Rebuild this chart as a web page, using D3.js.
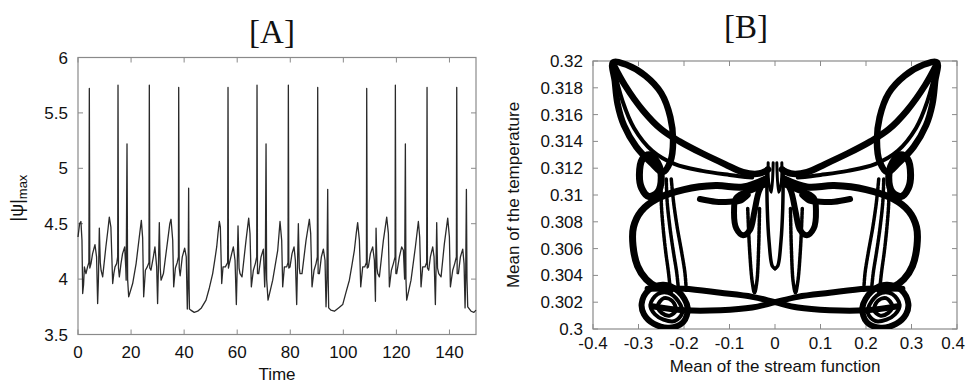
<!DOCTYPE html>
<html><head><meta charset="utf-8">
<script src="https://cdn.jsdelivr.net/npm/d3@7"></script>
<style>body{margin:0;background:#fff}svg{display:block}</style>
</head><body>
<svg id="c" width="966" height="383"></svg>
<script>
// ---------------- Panel A data ----------------
const timeTicksA = [0,20,40,60,80,100,120,140];
const psiTicksA = [3.5,4,4.5,5,5.5,6];
const psiSeries = [
[0,4.38],[0.6,4.5],[1.1,4.52],[1.5,4.35],[1.76,3.87],[2.1,3.95],[2.4,4.11],[3.0,4.05],[3.6,4.11],[4.1,4.15],[4.27,5.72],[4.45,4.1],[4.9,4.14],[5.5,4.23],[6.4,4.31],[7.0,4.2],[7.4,3.78],[7.7,4.0],[8.04,4.46],[8.4,4.15],[8.7,4.08],[9.3,4.02],[10.5,4.29],[11.3,4.45],[11.8,4.56],[12.4,4.47],[13.07,3.96],[13.5,4.05],[13.95,4.11],[14.57,4.14],[14.95,4.2],[15.08,5.75],[15.25,4.1],[15.58,4.02],[16.2,4.14],[16.8,4.23],[17.6,4.29],[18.0,4.1],[18.15,3.99],[18.47,5.22],[18.7,4.0],[19.1,3.84],[20.6,3.96],[21.9,4.14],[23.1,4.38],[23.87,4.53],[24.37,4.37],[24.75,3.84],[25.4,4.08],[26.1,4.11],[26.75,4.15],[26.88,5.75],[27.05,4.1],[27.5,4.08],[28.4,4.2],[29.0,4.29],[29.65,4.11],[30.0,3.78],[30.3,4.1],[30.65,4.51],[31.0,4.1],[31.3,3.99],[32.2,4.05],[33.8,4.35],[34.6,4.5],[35.06,4.54],[35.7,4.35],[36.06,3.93],[36.7,4.1],[37.4,4.15],[37.85,4.2],[37.95,5.73],[38.15,4.1],[38.5,4.03],[39.3,4.2],[40.2,4.28],[40.8,4.2],[41.2,3.73],[41.5,4.0],[41.7,4.82],[41.85,4.0],[42.0,3.73],[42.5,3.72],[43.8,3.70],[45.1,3.71],[46.5,3.74],[48.25,3.81],[49.5,3.92],[50.76,4.05],[51.6,4.18],[52.27,4.29],[52.8,4.42],[53.27,4.52],[53.65,4.47],[54.16,3.96],[54.66,4.11],[55.54,4.11],[56.4,4.15],[56.54,5.73],[56.7,4.1],[57.04,4.14],[57.92,4.23],[58.55,4.29],[59.18,4.17],[59.68,3.77],[60.0,4.1],[60.31,4.48],[60.7,4.1],[61.06,4.05],[61.81,4.02],[63.32,4.35],[64.33,4.55],[64.83,4.41],[65.33,3.93],[66.09,4.08],[66.84,4.14],[67.35,4.2],[67.47,5.75],[67.65,4.05],[68.1,4.05],[68.98,4.2],[69.86,4.27],[70.36,3.93],[70.6,4.1],[70.87,5.22],[71.1,4.0],[71.62,3.81],[73.38,3.99],[75.27,4.26],[76.14,4.52],[76.77,4.35],[77.14,3.93],[77.78,4.11],[78.65,4.11],[79.15,4.15],[79.28,5.75],[79.45,4.1],[79.91,4.11],[80.66,4.23],[81.42,4.29],[81.92,4.17],[82.42,3.77],[82.7,4.1],[83.05,4.5],[83.4,4.1],[83.68,4.05],[84.43,4.05],[85.94,4.35],[87.2,4.54],[87.7,4.41],[88.2,3.93],[88.96,4.08],[89.71,4.14],[90.2,4.2],[90.34,5.73],[90.5,4.05],[90.97,4.05],[91.72,4.2],[92.47,4.27],[93.1,4.17],[93.48,3.75],[93.8,4.0],[94.11,4.81],[94.3,4.0],[94.48,3.74],[95.3,3.72],[96.62,3.71],[98.2,3.74],[99.76,3.77],[101.0,3.88],[102.27,3.99],[103.2,4.12],[104.16,4.26],[104.9,4.42],[105.4,4.51],[106.05,4.35],[106.55,3.93],[107.3,4.11],[108.06,4.11],[108.7,4.15],[108.81,5.72],[109.0,4.1],[109.44,4.11],[110.2,4.23],[111.07,4.29],[111.7,4.17],[112.1,3.8],[112.33,4.46],[112.7,4.1],[112.96,4.05],[113.58,4.02],[115.09,4.35],[116.35,4.56],[116.98,4.41],[117.35,3.93],[118.11,4.08],[118.86,4.14],[119.5,4.2],[119.61,5.75],[119.8,4.05],[120.11,4.05],[121.12,4.2],[122.0,4.29],[122.63,4.26],[123.1,4.0],[123.38,5.22],[123.6,4.0],[123.88,3.81],[125.51,3.99],[127.15,4.29],[128.28,4.52],[128.78,4.38],[129.28,3.93],[129.91,4.11],[130.79,4.11],[131.4,4.15],[131.55,5.73],[131.7,4.1],[132.18,4.08],[132.81,4.2],[133.69,4.29],[134.19,4.2],[134.69,3.77],[134.95,4.1],[135.19,4.51],[135.5,4.1],[135.95,4.05],[136.83,4.02],[138.08,4.32],[139.34,4.55],[139.97,4.38],[140.35,3.93],[141.23,4.08],[141.98,4.14],[142.6,4.2],[142.74,5.73],[142.9,4.05],[143.37,4.05],[144.12,4.2],[145.0,4.27],[145.5,4.14],[145.88,3.74],[146.1,4.0],[146.38,4.81],[146.6,4.0],[146.88,3.75],[148.14,3.71],[149.2,3.70],[150,3.72]
];

// ---------------- Panel B data ----------------
const streamTicksB = [-0.4,-0.3,-0.2,-0.1,0,0.1,0.2,0.3,0.4];
const tempTicksB = [0.3,0.302,0.304,0.306,0.308,0.31,0.312,0.314,0.316,0.318,0.32];
// left half curves
const leafL = [[-0.356,0.3199],[-0.352,0.3185],[-0.346,0.3168],[-0.332,0.3152],[-0.305,0.3136],[-0.272,0.3124],[-0.247,0.3117],[-0.230,0.3125],[-0.224,0.3140],[-0.230,0.3158],[-0.250,0.3176],[-0.285,0.3189],[-0.325,0.3197]];
const wingTopL = [[-0.356,0.3198],[-0.33,0.3182],[-0.29,0.3163],[-0.25,0.3149],[-0.21,0.3140],[-0.16,0.3131],[-0.11,0.3123],[-0.07,0.3117],[-0.035,0.3116],[-0.015,0.3119]];
const wingMidL = [[-0.356,0.3197],[-0.335,0.3170],[-0.31,0.3150],[-0.27,0.3133],[-0.22,0.3123],[-0.16,0.3118],[-0.1,0.3115],[-0.05,0.3113]];
const smallLoopL = [[-0.298,0.3115],[-0.291,0.3127],[-0.276,0.3130],[-0.258,0.3124],[-0.250,0.3113],[-0.258,0.3102],[-0.278,0.3099],[-0.293,0.3105]];
const bigLoopL = [[-0.02,0.3112],[-0.07,0.3106],[-0.13,0.3107],[-0.2,0.3104],[-0.26,0.3097],[-0.294,0.3088],[-0.311,0.3076],[-0.312,0.3062],[-0.302,0.3047],[-0.283,0.3037],[-0.258,0.3031],[-0.23,0.3029]];
const legL1 = [[-0.250,0.3112],[-0.250,0.3095],[-0.246,0.3076],[-0.240,0.3057],[-0.234,0.3042],[-0.230,0.3029]];
const legL2 = [[-0.239,0.3112],[-0.237,0.3095],[-0.231,0.3076],[-0.223,0.3057],[-0.216,0.3042],[-0.212,0.3029]];
const legL3 = [[-0.228,0.3112],[-0.223,0.3095],[-0.215,0.3076],[-0.205,0.3057],[-0.198,0.3042],[-0.195,0.3029]];
const spiralL1 = [[-0.293,0.3019],[-0.278,0.3029],[-0.245,0.3033],[-0.212,0.3028],[-0.192,0.3016],[-0.202,0.3005],[-0.232,0.3001],[-0.267,0.3004],[-0.288,0.3011]];
const spiralL2 = [[-0.274,0.3018],[-0.258,0.3026],[-0.235,0.3027],[-0.213,0.3021],[-0.204,0.3012],[-0.220,0.3006],[-0.245,0.3007],[-0.264,0.3011]];
const spiralL3 = [[-0.258,0.3017],[-0.244,0.3023],[-0.226,0.3021],[-0.218,0.3014],[-0.231,0.3010],[-0.249,0.3012]];
const lensUpper = [[-0.28,0.3030],[-0.2,0.3030],[-0.12,0.3027],[-0.05,0.3024],[0,0.3020],[0.05,0.3016],[0.12,0.3014],[0.2,0.3014],[0.27,0.3017]];
const lensLower = [[-0.27,0.3017],[-0.2,0.3014],[-0.12,0.3014],[-0.05,0.3016],[0,0.3020],[0.05,0.3024],[0.12,0.3027],[0.2,0.3030],[0.28,0.3030]];
const tulipL = [[-0.02,0.3108],[-0.05,0.3104],[-0.085,0.3098],[-0.09,0.3088],[-0.085,0.3075],[-0.07,0.3070],[-0.055,0.3074],[-0.045,0.3088],[-0.035,0.3103],[-0.02,0.3112]];
const bandL = [[-0.165,0.3097],[-0.13,0.3095],[-0.10,0.3095],[-0.075,0.3096],[-0.06,0.3100]];
const uL = [[-0.06,0.3090],[-0.056,0.3060],[-0.050,0.3035],[-0.045,0.3027],[-0.040,0.3035],[-0.036,0.3060],[-0.034,0.3090]];
const vL = [[-0.018,0.3120],[-0.017,0.3090],[-0.013,0.3065],[-0.006,0.3047],[0,0.3045]];
const crownL = [[-0.015,0.3124],[-0.014,0.3110],[-0.008,0.3102],[-0.004,0.3124]];
// right half curves
const leafR = [[0.356,0.3199],[0.352,0.3185],[0.346,0.3168],[0.332,0.3152],[0.305,0.3136],[0.272,0.3124],[0.247,0.3117],[0.230,0.3125],[0.224,0.3140],[0.230,0.3158],[0.250,0.3176],[0.285,0.3189],[0.325,0.3197]];
const wingTopR = [[0.356,0.3198],[0.33,0.3182],[0.29,0.3163],[0.25,0.3149],[0.21,0.3140],[0.16,0.3131],[0.11,0.3123],[0.07,0.3117],[0.035,0.3116],[0.015,0.3119]];
const wingMidR = [[0.356,0.3197],[0.335,0.3170],[0.31,0.3150],[0.27,0.3133],[0.22,0.3123],[0.16,0.3118],[0.1,0.3115],[0.05,0.3113]];
const smallLoopR = [[0.298,0.3115],[0.291,0.3127],[0.276,0.3130],[0.258,0.3124],[0.250,0.3113],[0.258,0.3102],[0.278,0.3099],[0.293,0.3105]];
const bigLoopR = [[0.02,0.3112],[0.07,0.3106],[0.13,0.3107],[0.2,0.3104],[0.26,0.3097],[0.294,0.3088],[0.311,0.3076],[0.312,0.3062],[0.302,0.3047],[0.283,0.3037],[0.258,0.3031],[0.23,0.3029]];
const legR1 = [[0.250,0.3112],[0.250,0.3095],[0.246,0.3076],[0.240,0.3057],[0.234,0.3042],[0.230,0.3029]];
const legR2 = [[0.239,0.3112],[0.237,0.3095],[0.231,0.3076],[0.223,0.3057],[0.216,0.3042],[0.212,0.3029]];
const legR3 = [[0.228,0.3112],[0.223,0.3095],[0.215,0.3076],[0.205,0.3057],[0.198,0.3042],[0.195,0.3029]];
const spiralR1 = [[0.293,0.3019],[0.278,0.3029],[0.245,0.3033],[0.212,0.3028],[0.192,0.3016],[0.202,0.3005],[0.232,0.3001],[0.267,0.3004],[0.288,0.3011]];
const spiralR2 = [[0.274,0.3018],[0.258,0.3026],[0.235,0.3027],[0.213,0.3021],[0.204,0.3012],[0.220,0.3006],[0.245,0.3007],[0.264,0.3011]];
const spiralR3 = [[0.258,0.3017],[0.244,0.3023],[0.226,0.3021],[0.218,0.3014],[0.231,0.3010],[0.249,0.3012]];
const tulipR = [[0.02,0.3108],[0.05,0.3104],[0.085,0.3098],[0.09,0.3088],[0.085,0.3075],[0.07,0.3070],[0.055,0.3074],[0.045,0.3088],[0.035,0.3103],[0.02,0.3112]];
const bandR = [[0.165,0.3097],[0.13,0.3095],[0.10,0.3095],[0.075,0.3096],[0.06,0.3100]];
const uR = [[0.06,0.3090],[0.056,0.3060],[0.050,0.3035],[0.045,0.3027],[0.040,0.3035],[0.036,0.3060],[0.034,0.3090]];
const vR = [[0.018,0.3120],[0.017,0.3090],[0.013,0.3065],[0.006,0.3047],[0,0.3045]];
const crownR = [[0.015,0.3124],[0.014,0.3110],[0.008,0.3102],[0.004,0.3124]];

const svg = d3.select("#c");
const FRAME = "#8a8a8a";
const FONT = "'Liberation Sans', Arial, sans-serif";

function frame(g, x, y, xt, yt, fmtX, fmtY, xLabY) {
  const [x0,x1] = x.range(), [y0,y1] = y.range();
  g.append("rect").attr("x",x0).attr("y",y1).attr("width",x1-x0).attr("height",y0-y1)
    .attr("fill","none").attr("stroke",FRAME).attr("stroke-width",1.2);
  xt.forEach(v=>{
    const px = x(v);
    g.append("line").attr("x1",px).attr("x2",px).attr("y1",y0).attr("y2",y0-5).attr("stroke",FRAME);
    g.append("line").attr("x1",px).attr("x2",px).attr("y1",y1).attr("y2",y1+5).attr("stroke",FRAME);
    const t = g.append("text").attr("x",px).attr("y",xLabY).attr("text-anchor","middle")
      .attr("font-family",FONT).attr("font-size",17).attr("fill","#111").text(fmtX(v));
    if (px > 950) t.attr("x", 965).attr("text-anchor","end");
  });
  yt.forEach(v=>{
    const py = y(v);
    g.append("line").attr("x1",x0).attr("x2",x0+5).attr("y1",py).attr("y2",py).attr("stroke",FRAME);
    g.append("line").attr("x1",x1).attr("x2",x1-5).attr("y1",py).attr("y2",py).attr("stroke",FRAME);
    g.append("text").attr("x",x0-10).attr("y",py+6).attr("text-anchor","end")
      .attr("font-family",FONT).attr("font-size",17).attr("fill","#111").text(fmtY(v));
  });
}

// ---------- Panel A ----------
const xA = d3.scaleLinear().domain([0,150]).range([78,476]);
const yA = d3.scaleLinear().domain([3.5,6]).range([334.5,57.5]);
const gA = svg.append("g");
frame(gA, xA, yA, timeTicksA, psiTicksA, d=>String(d), d=>String(d), 358);
gA.append("path").datum(psiSeries)
  .attr("d", d3.line().x(d=>xA(d[0])).y(d=>yA(d[1])))
  .attr("fill","none").attr("stroke","#2a2a2a").attr("stroke-width",1.3).attr("stroke-linejoin","round");
gA.append("text").attr("x",272).attr("y",43).attr("text-anchor","middle")
  .attr("font-family","'Liberation Serif', 'Times New Roman', serif").attr("font-size",33).attr("fill","#111").text("[A]");
gA.append("text").attr("x",277).attr("y",380).attr("text-anchor","middle")
  .attr("font-family",FONT).attr("font-size",17).attr("fill","#111").text("Time");
const yl = gA.append("text").attr("transform","translate(23,198) rotate(-90)").attr("text-anchor","middle")
  .attr("font-family",FONT).attr("font-size",18).attr("fill","#111");
yl.append("tspan").text("|ψ|");
yl.append("tspan").attr("font-size",13).attr("dy",4).text("max");

// ---------- Panel B ----------
const xB = d3.scaleLinear().domain([-0.4,0.4]).range([593,957]);
const yB = d3.scaleLinear().domain([0.3,0.32]).range([329,61]);
const gB = svg.append("g");
frame(gB, xB, yB, streamTicksB, tempTicksB, d=>String(+d.toFixed(1)), d=>String(+d.toFixed(3)), 349);
gB.append("clipPath").attr("id","clipB").append("rect")
  .attr("x",593).attr("y",58).attr("width",364).attr("height",271);
const plotB = gB.append("g").attr("clip-path","url(#clipB)");
const lineOpen = d3.line().x(d=>xB(d[0])).y(d=>yB(d[1])).curve(d3.curveCatmullRom);
const lineClosed = d3.line().x(d=>xB(d[0])).y(d=>yB(d[1])).curve(d3.curveCatmullRomClosed);
function draw(data, w, closed, dash) {
  const p = plotB.append("path").datum(data).attr("d", closed ? lineClosed : lineOpen)
    .attr("fill","none").attr("stroke","#000").attr("stroke-width",w)
    .attr("stroke-linejoin","round").attr("stroke-linecap","round");
  if (dash) p.attr("stroke-dasharray", dash);
}
[leafL,leafR].forEach(d=>draw(d,6.5,true));
[wingTopL,wingTopR].forEach(d=>draw(d,6.5,false));
[wingMidL,wingMidR].forEach(d=>draw(d,4,false));
[smallLoopL,smallLoopR].forEach(d=>draw(d,7,true));
[bigLoopL,bigLoopR].forEach(d=>draw(d,7,false));
[legL1,legL2,legL3,legR1,legR2,legR3].forEach(d=>draw(d,3.5,false,"3,1"));
[spiralL1,spiralR1].forEach(d=>draw(d,6,true));
[spiralL2,spiralR2,spiralL3,spiralR3].forEach(d=>draw(d,4,true));
[lensUpper,lensLower].forEach(d=>draw(d,6,false));
[tulipL,tulipR].forEach(d=>draw(d,6,false));
[bandL,bandR].forEach(d=>draw(d,6,false));
[uL,uR].forEach(d=>draw(d,3.5,false,"3,1"));
[vL,vR].forEach(d=>draw(d,3.5,false));
[crownL,crownR].forEach(d=>draw(d,3,false));
gB.append("text").attr("x",746).attr("y",38).attr("text-anchor","middle")
  .attr("font-family","'Liberation Serif', 'Times New Roman', serif").attr("font-size",33).attr("fill","#111").text("[B]");
gB.append("text").attr("x",775).attr("y",372).attr("text-anchor","middle")
  .attr("font-family",FONT).attr("font-size",17).attr("fill","#111").text("Mean of the stream function");
gB.append("text").attr("transform","translate(519,195) rotate(-90)").attr("text-anchor","middle")
  .attr("font-family",FONT).attr("font-size",17).attr("fill","#111").text("Mean of the temperature");
</script>
</body></html>
